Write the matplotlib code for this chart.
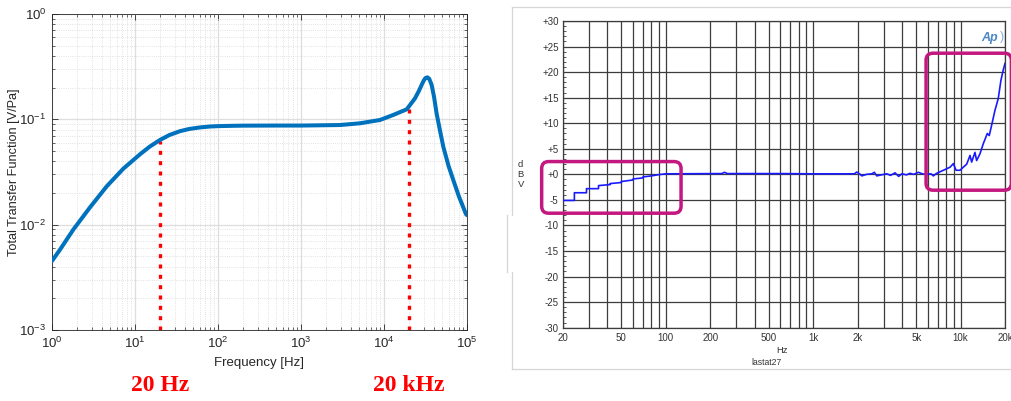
import matplotlib
matplotlib.use("Agg")
import matplotlib.pyplot as plt
from matplotlib.patches import FancyBboxPatch
from matplotlib.lines import Line2D
from matplotlib.transforms import IdentityTransform, blended_transform_factory
import numpy as np

plt.rcParams['font.family'] = ['Liberation Sans', 'DejaVu Sans']

# 左图：传递函数
tf_freq = [1, 1.25, 1.81, 2.87, 4.56, 7.23, 11.5, 15, 20, 26, 34.8, 45, 60.7, 80, 100, 150,
           200, 500, 1000, 2950, 5130, 8950, 12900, 18800, 23600, 26500, 28400, 30000,
           31500, 33300, 35000, 36200, 37500, 40000, 43000, 47000, 51800, 60000, 68400,
           80000, 97200, 100000]
tf_val = [0.00452, 0.0058, 0.0090, 0.0146, 0.0231, 0.0340, 0.0466, 0.055, 0.0637, 0.071,
          0.0772, 0.0810, 0.0838, 0.0855, 0.0862, 0.0868, 0.0871, 0.0873, 0.0873, 0.0883,
          0.0917, 0.0986, 0.110, 0.1245, 0.158, 0.188, 0.212, 0.232, 0.246, 0.2506, 0.243,
          0.228, 0.212, 0.165, 0.114, 0.080, 0.055, 0.036, 0.0265, 0.0185, 0.0126, 0.0123]
band_freq = [20, 20000]
band_top = [0.062, 0.125]
band_text = ["20 Hz", "20 kHz"]

# 右图：AP 频响 (dBV)
ap_freq = [20, 24, 24, 29, 29, 35, 35, 42, 42, 50, 50, 60, 60, 70, 70, 80, 90, 100,
           240, 250, 262, 600, 1000, 1900, 1977, 2060, 2138, 2300, 2497, 2600, 2700, 2900,
           3155, 3350, 3590, 3800, 3990, 4300, 4540, 4800, 5170, 5500, 5890, 6300, 6530,
           6880, 7640, 8480, 8930, 9310, 9910, 10430, 11000, 11580, 11880, 12510, 12840,
           13520, 14250, 15170, 15640, 16230, 17090, 17990, 18770, 19450, 20000]
ap_dbv = [-5.1, -5.1, -3.6, -3.6, -2.8, -2.8, -2.2, -2.0, -1.8, -1.6, -1.4, -1.1, -0.9,
          -0.7, -0.5, -0.3, -0.05, 0.1, 0.15, 0.4, 0.15, 0.15, 0.1, 0.1, 0.45, 0.1, -0.3,
          0.0, 0.1, 0.4, -0.3, -0.1, 0.1, -0.2, 0.3, -0.4, 0.1, -0.1, 0.2, 0.0, 0.4, 0.1,
          0.0, 0.1, -0.3, 0.2, 0.8, 1.4, 2.1, 0.8, 0.8, 1.4, 2.0, 3.7, 2.4, 4.3, 2.7, 4.0,
          6.0, 8.0, 7.6, 9.6, 12.5, 14.8, 18.4, 20.4, 21.7]
ap_xticks = [20, 50, 100, 200, 500, 1000, 2000, 5000, 10000, 20000]
ap_xlabels = ["20", "50", "100", "200", "500", "1k", "2k", "5k", "10k", "20k"]
ap_minor = [30, 40, 60, 70, 80, 90, 300, 400, 600, 700, 800, 900,
            3000, 4000, 6000, 7000, 8000, 9000]
ap_yticks = [-30, -25, -20, -15, -10, -5, 0, 5, 10, 15, 20, 25, 30]
ap_ylabels = ["-30", "-25", "-20", "-15", "-10", "-5", "+0", "+5", "+10", "+15", "+20", "+25", "+30"]
# 方框范围 (Hz, dB)
boxes = [(14.4, 127, -7.6, 2.5), (5830, 22100, -3.1, 23.7)]

W, H = 1012, 401
fig = plt.figure(figsize=(W / 100, H / 100), dpi=100)

# ---------- 左图 ----------
ax1 = fig.add_axes([52 / W, 1 - 330 / H, 415 / W, 316 / H])
ax1.set_xscale('log')
ax1.set_yscale('log')
ax1.vlines(band_freq, 1e-3, band_top, colors='#ff0000', lw=2.4,
           linestyles=[(0, (1.2, 1.9))], zorder=2)
ax1.plot(tf_freq, tf_val, color='#0072BD', lw=2.9, zorder=3,
         solid_capstyle='round', solid_joinstyle='round')
ax1.set_xlim(1, 1e5)
ax1.set_ylim(1e-3, 1)
ax1.set_xticks([1, 10, 100, 1000, 1e4, 1e5])
ax1.set_yticks([1e-3, 1e-2, 1e-1, 1])
ax1.grid(which='major', color='#dedede', lw=0.9, ls='-')
ax1.grid(which='minor', color='#d8d8d8', lw=0.6, ls=':')
ax1.set_axisbelow(True)
ax1.tick_params(which='both', direction='in', top=True, right=True, colors='#262626',
                labelsize=9.5)
ax1.tick_params(which='major', length=4, width=0.6)
ax1.tick_params(which='minor', length=2.2, width=0.5)
ax1.tick_params(axis='x', pad=4)
ax1.tick_params(axis='y', pad=4)
for s in ax1.spines.values():
    s.set_color('#262626')
    s.set_linewidth(0.6)
ax1.set_xlabel('Frequency [Hz]', fontsize=9.5, color='#262626')
ax1.set_ylabel('Total Transfer Function [V/Pa]', fontsize=9.2, color='#262626')
ax1.xaxis.set_label_coords(0.5, -0.087)
ax1.yaxis.set_label_coords(-0.077, 0.5)
tr = blended_transform_factory(ax1.transData, ax1.transAxes)
for f, t in zip(band_freq, band_text):
    ax1.text(f, -0.175, t, transform=tr, ha='center', va='center', color='#ff0000',
             fontsize=17, fontweight='bold', family=['Liberation Serif', 'DejaVu Serif'])

# ---------- 右图 ----------
ax2 = fig.add_axes([562.7 / W, 1 - 327.7 / H, 442.3 / W, 306.7 / H])
ax2.set_xscale('log')
ax2.plot(ap_freq, ap_dbv, color='#1a1aff', lw=1.2, zorder=3)
ax2.set_xlim(20, 20000)
ax2.set_ylim(-30, 30)
ax2.set_xticks(ap_xticks)
ax2.set_xticklabels(ap_xlabels)
ax2.set_xticks(ap_minor, minor=True)
ax2.set_xticklabels([], minor=True)
ax2.set_yticks(ap_yticks)
ax2.set_yticklabels(ap_ylabels)
ax2.set_yticks(np.arange(-30, 31, 1), minor=True)
ax2.grid(which='both', axis='x', color='#3c3c3c', lw=0.9)
ax2.grid(which='major', axis='y', color='#3c3c3c', lw=0.9)
ax2.tick_params(axis='x', which='both', length=0, pad=4, labelsize=7, colors='#333333')
ax2.tick_params(axis='y', which='major', length=0, pad=3, labelsize=7, colors='#333333')
ax2.tick_params(axis='y', which='minor', direction='in', length=2.5, width=0.6,
                color='#3c3c3c')
for s in ax2.spines.values():
    s.set_color('#3c3c3c')
    s.set_linewidth(0.9)
ax2.text(-0.095, 0.5, 'd\nB\nV', transform=ax2.transAxes, ha='center', va='center',
         fontsize=6.8, color='#333333', linespacing=1.1)
ax2.text(0.495, -0.075, 'Hz', transform=ax2.transAxes, ha='center', va='center',
         fontsize=6.8, color='#333333')
ax2.text(0.46, -0.113, 'lastat27', transform=ax2.transAxes, ha='center', va='center',
         fontsize=6.2, color='#333333')
ax2.text(0.985, 0.965, 'Ap', transform=ax2.transAxes, ha='right', va='top',
         fontsize=9, style='italic', fontweight='bold', color='#4a86c5', zorder=4)
ax2.text(0.997, 0.968, ')', transform=ax2.transAxes, ha='right', va='top',
         fontsize=9, color='#7fb0de', zorder=4)

for x0, x1, y0, y1 in boxes:
    p0 = ax2.transData.transform((x0, y0))
    p1 = ax2.transData.transform((x1, y1))
    box = FancyBboxPatch(p0, p1[0] - p0[0], p1[1] - p0[1],
                         boxstyle="round,pad=0,rounding_size=7",
                         transform=IdentityTransform(), fill=False,
                         edgecolor='#c2187f', lw=2.5, zorder=10)
    fig.add_artist(box)

# 截图外框
frame = dict(color='#d6d6d6', lw=0.9, transform=fig.transFigure)
fig.add_artist(Line2D([512 / W, 1], [1 - 7 / H, 1 - 7 / H], **frame))
fig.add_artist(Line2D([512 / W, 1], [1 - 369 / H, 1 - 369 / H], **frame))
fig.add_artist(Line2D([512 / W, 512 / W], [1 - 7 / H, 1 - 215 / H], **frame))
fig.add_artist(Line2D([507 / W, 507 / W], [1 - 215 / H, 1 - 272 / H], **frame))
fig.add_artist(Line2D([512 / W, 512 / W], [1 - 272 / H, 1 - 369 / H], **frame))

fig.savefig('out.png', dpi=100)
